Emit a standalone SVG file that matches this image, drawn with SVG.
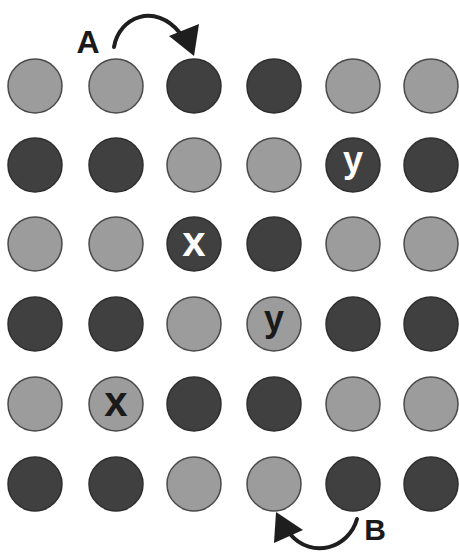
<svg xmlns="http://www.w3.org/2000/svg" width="459" height="557" viewBox="0 0 459 557">
<style>
.L{fill:#9c9c9c;stroke:#4a4a4a;stroke-width:1.5}
.D{fill:#404040;stroke:#2e2e2e;stroke-width:1.5}
.lbl{font-family:"Liberation Sans","DejaVu Sans",sans-serif;font-weight:bold;text-anchor:middle}
.w{fill:#ffffff}
.k{fill:#1a1a1a}
.arc{fill:none;stroke:#1e1e1e;stroke-width:4;stroke-linecap:round}
</style>
<rect width="459" height="557" fill="#ffffff"/>
<g id="nodes">
<g id="r1">
<circle class="L" cx="35" cy="86" r="27"/><circle class="L" cx="116" cy="86" r="27"/><circle class="D" cx="194" cy="86" r="27"/><circle class="D" cx="274" cy="86" r="27"/><circle class="L" cx="353" cy="86" r="27"/><circle class="L" cx="431" cy="86" r="27"/>
</g>
<g id="r2">
<circle class="D" cx="35" cy="165" r="27"/><circle class="D" cx="116" cy="165" r="27"/><circle class="L" cx="194" cy="165" r="27"/><circle class="L" cx="274" cy="165" r="27"/>
<g id="y1"><circle class="D" cx="353" cy="165" r="27"/><text class="lbl w" x="353" y="172" font-size="36">y</text></g>
<circle class="D" cx="431" cy="165" r="27"/>
</g>
<g id="r3">
<circle class="L" cx="35" cy="244" r="27"/><circle class="L" cx="116" cy="244" r="27"/>
<g id="x1"><circle class="D" cx="194" cy="244" r="27"/><text class="lbl w" x="194" y="256" font-size="42">x</text></g>
<circle class="D" cx="274" cy="244" r="27"/><circle class="L" cx="353" cy="244" r="27"/><circle class="L" cx="431" cy="244" r="27"/>
</g>
<g id="r4">
<circle class="D" cx="35" cy="324" r="27"/><circle class="D" cx="116" cy="324" r="27"/><circle class="L" cx="194" cy="324" r="27"/>
<g id="y2"><circle class="L" cx="274" cy="324" r="27"/><text class="lbl k" x="274" y="331" font-size="36">y</text></g>
<circle class="D" cx="353" cy="324" r="27"/><circle class="D" cx="431" cy="324" r="27"/>
</g>
<g id="r5">
<circle class="L" cx="35" cy="404" r="27"/>
<g id="x2"><circle class="L" cx="116" cy="404" r="27"/><text class="lbl k" x="116" y="416" font-size="42">x</text></g>
<circle class="D" cx="194" cy="404" r="27"/><circle class="D" cx="274" cy="404" r="27"/><circle class="L" cx="353" cy="404" r="27"/><circle class="L" cx="431" cy="404" r="27"/>
</g>
<g id="r6">
<circle class="D" cx="35" cy="484" r="27"/><circle class="D" cx="116" cy="484" r="27"/><circle class="L" cx="194" cy="484" r="27"/><circle class="L" cx="274" cy="484" r="27"/><circle class="D" cx="353" cy="484" r="27"/><circle class="D" cx="431" cy="484" r="27"/>
</g>
</g>
<g id="connectors">
<g id="arrowA">
<path class="arc" d="M114,47 C119,17 155,2 180,33"/>
<polygon points="169,36 199,24 194,56" fill="#1e1e1e"/>
<text class="lbl k" x="88" y="53" font-size="32">A</text>
</g>
<g id="arrowB">
<path class="arc" d="M357,519 C349,548 312,560 290,534"/>
<polygon points="276,512 303,530 274,543" fill="#1e1e1e"/>
<text class="lbl k" x="375" y="540" font-size="30">B</text>
</g>
</g>
</svg>
